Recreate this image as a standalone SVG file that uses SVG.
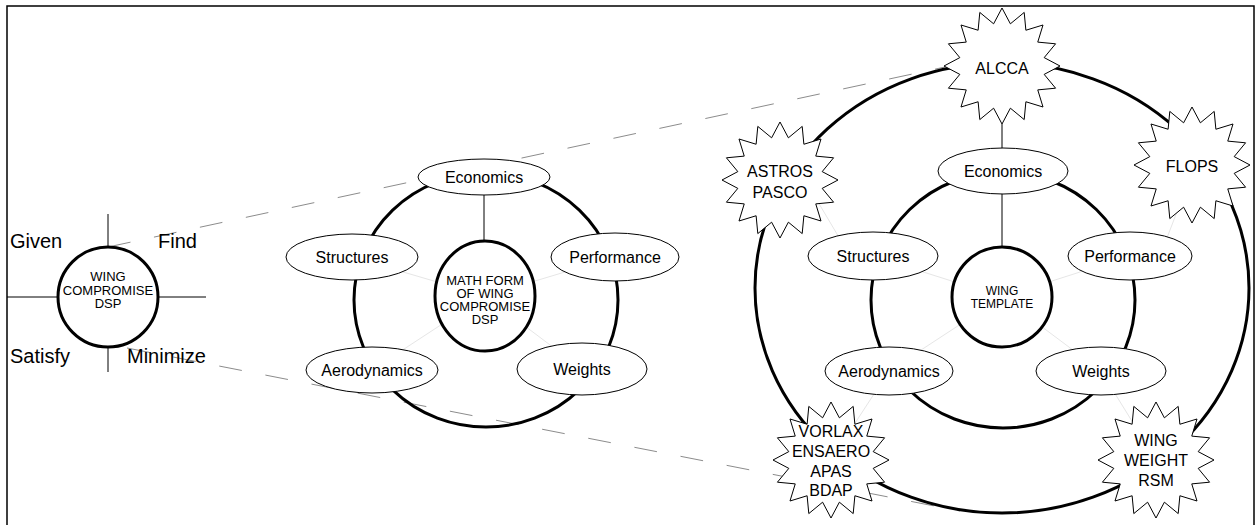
<svg xmlns="http://www.w3.org/2000/svg" xmlns:xlink="http://www.w3.org/1999/xlink" width="1257" height="525" viewBox="0 0 1257 525">
<style>
text{font-family:"Liberation Sans",Arial,sans-serif;fill:#000}
.lbl{font-size:16px;text-anchor:middle}
.big{font-size:20px}
.sm{font-size:13px;text-anchor:middle}
.xs{font-size:12px;text-anchor:middle}
.node{fill:#fff;stroke:#000;stroke-width:1}
.core{fill:#fff;stroke:#000;stroke-width:3}
.ring{fill:none;stroke:#000;stroke-width:3}
.thin{stroke:#000;stroke-width:1;fill:none}
.faint{stroke:#e6e6e6;stroke-width:1;fill:none}
.dash{stroke:#8c8c8c;stroke-width:1;fill:none;stroke-dasharray:23 24}
.star{fill:#fff;stroke:#000;stroke-width:1}
</style>
<defs>
<polygon id="star" points="0,-58 8.39,-42.18 22.2,-53.59 23.89,-35.76 41.01,-41.01 35.76,-23.89 53.59,-22.2 42.18,-8.39 58,0 42.18,8.39 53.59,22.2 35.76,23.89 41.01,41.01 23.89,35.76 22.2,53.59 8.39,42.18 0,58 -8.39,42.18 -22.2,53.59 -23.89,35.76 -41.01,41.01 -35.76,23.89 -53.59,22.2 -42.18,8.39 -58,0 -42.18,-8.39 -53.59,-22.2 -35.76,-23.89 -41.01,-41.01 -23.89,-35.76 -22.2,-53.59 -8.39,-42.18"/>
</defs>
<rect x="7" y="6" width="1247" height="530" fill="#fff" stroke="#000" stroke-width="1.5"/>

<g id="connectors">
  <g id="faint-lines">
    <line class="faint" x1="485" y1="296" x2="352" y2="257"/>
    <line class="faint" x1="485" y1="296" x2="615" y2="257"/>
    <line class="faint" x1="485" y1="296" x2="372" y2="370"/>
    <line class="faint" x1="485" y1="296" x2="582" y2="369"/>
    <line class="faint" x1="1002" y1="297" x2="873" y2="256"/>
    <line class="faint" x1="1002" y1="297" x2="1130" y2="256"/>
    <line class="faint" x1="1002" y1="297" x2="889" y2="371"/>
    <line class="faint" x1="1002" y1="297" x2="1101" y2="371"/>
    <line class="faint" x1="805" y1="180" x2="850" y2="256"/>
    <line class="faint" x1="1195" y1="165" x2="1160" y2="256"/>
    <line class="faint" x1="831" y1="460" x2="889" y2="371"/>
    <line class="faint" x1="1156" y1="460" x2="1101" y2="371"/>
  </g>
  <line id="zoom-upper" class="dash" x1="108" y1="247" x2="945" y2="67"/>
  <line id="zoom-lower" class="dash" x1="127" y1="348" x2="960" y2="511"/>
  <ellipse id="ring-middle" class="ring" cx="486" cy="300" rx="132" ry="127"/>
  <ellipse id="ring-right-inner" class="ring" cx="1003" cy="300" rx="132" ry="128"/>
  <ellipse id="ring-right-outer" class="ring" cx="1002" cy="288" rx="247" ry="225"/>
  <line class="thin" x1="108" y1="214" x2="108" y2="247"/>
  <line class="thin" x1="108" y1="347" x2="108" y2="372"/>
  <line class="thin" x1="7" y1="297" x2="57" y2="297"/>
  <line class="thin" x1="158" y1="297" x2="206" y2="297"/>
  <line class="thin" x1="484" y1="195" x2="484" y2="241"/>
  <line class="thin" x1="1002" y1="124" x2="1002" y2="149"/>
  <line class="thin" x1="1002" y1="193" x2="1002" y2="247"/>
</g>

<g id="left-dsp">
  <circle class="core" cx="108" cy="297" r="50"/>
  <text class="sm" x="108" y="281">WING</text>
  <text class="sm" x="108" y="295">COMPROMISE</text>
  <text class="sm" x="108" y="308">DSP</text>
</g>
<g id="label-given"><text class="big" x="10" y="248">Given</text></g>
<g id="label-find"><text class="big" x="158" y="248">Find</text></g>
<g id="label-satisfy"><text class="big" x="10" y="363">Satisfy</text></g>
<g id="label-minimize"><text class="big" x="127" y="363">Minimize</text></g>

<g id="m-economics"><ellipse class="node" cx="484" cy="177" rx="66" ry="18"/><text class="lbl" x="484" y="183">Economics</text></g>
<g id="m-structures"><ellipse class="node" cx="352" cy="257" rx="66" ry="23"/><text class="lbl" x="352" y="263">Structures</text></g>
<g id="m-performance"><ellipse class="node" cx="615" cy="257" rx="64" ry="24"/><text class="lbl" x="615" y="263">Performance</text></g>
<g id="m-aerodynamics"><ellipse class="node" cx="372" cy="370" rx="66" ry="23"/><text class="lbl" x="372" y="376">Aerodynamics</text></g>
<g id="m-weights"><ellipse class="node" cx="582" cy="369" rx="65" ry="26"/><text class="lbl" x="582" y="375">Weights</text></g>
<g id="m-core">
  <ellipse class="core" cx="485" cy="296" rx="50" ry="55"/>
  <text class="sm" x="485" y="285">MATH FORM</text>
  <text class="sm" x="485" y="298">OF WING</text>
  <text class="sm" x="485" y="311">COMPROMISE</text>
  <text class="sm" x="485" y="324">DSP</text>
</g>

<g id="r-economics"><ellipse class="node" cx="1003" cy="171" rx="65" ry="23"/><text class="lbl" x="1003" y="177">Economics</text></g>
<g id="r-structures"><ellipse class="node" cx="873" cy="256" rx="65" ry="24"/><text class="lbl" x="873" y="262">Structures</text></g>
<g id="r-performance"><ellipse class="node" cx="1130" cy="256" rx="62" ry="24"/><text class="lbl" x="1130" y="262">Performance</text></g>
<g id="r-aerodynamics"><ellipse class="node" cx="889" cy="371" rx="64" ry="24"/><text class="lbl" x="889" y="377">Aerodynamics</text></g>
<g id="r-weights"><ellipse class="node" cx="1101" cy="371" rx="65" ry="24"/><text class="lbl" x="1101" y="377">Weights</text></g>
<g id="r-core">
  <circle class="core" cx="1002" cy="297" r="50"/>
  <text class="xs" x="1002" y="295">WING</text>
  <text class="xs" x="1002" y="308">TEMPLATE</text>
</g>

<g id="s-alcca"><use xlink:href="#star" href="#star" class="star" x="1002" y="66"/><text class="lbl" x="1002" y="74">ALCCA</text></g>
<g id="s-astros"><use xlink:href="#star" href="#star" class="star" x="780" y="180"/><text class="lbl" x="780" y="177">ASTROS</text><text class="lbl" x="780" y="198">PASCO</text></g>
<g id="s-flops"><use xlink:href="#star" href="#star" class="star" x="1192" y="165"/><text class="lbl" x="1192" y="172">FLOPS</text></g>
<g id="s-vorlax"><use xlink:href="#star" href="#star" class="star" x="831" y="460"/><text class="lbl" x="831" y="437">VORLAX</text><text class="lbl" x="831" y="457">ENSAERO</text><text class="lbl" x="831" y="477">APAS</text><text class="lbl" x="831" y="496">BDAP</text></g>
<g id="s-wingweight"><use xlink:href="#star" href="#star" class="star" x="1156" y="460"/><text class="lbl" x="1156" y="446">WING</text><text class="lbl" x="1156" y="466">WEIGHT</text><text class="lbl" x="1156" y="486">RSM</text></g>
</svg>
